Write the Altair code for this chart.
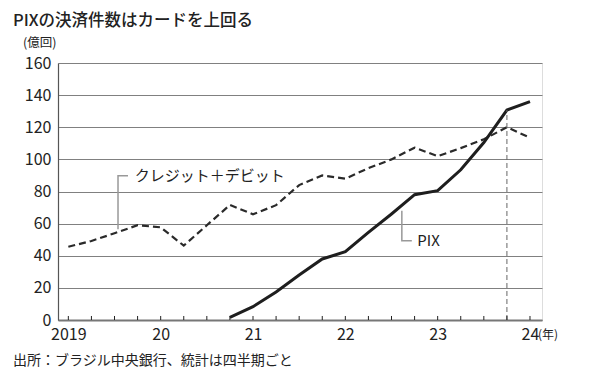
import altair as alt
import pandas as pd

# quarterly data, 2019 Q1 .. 2024 Q1
quarters = [2019 + i * 0.25 for i in range(21)]
card = [45.6, 49.2, 54.0, 59.0, 57.7, 46.3, 59.0, 71.6, 65.8, 71.5, 84.0, 90.0,
        88.0, 94.5, 100.0, 107.3, 102.0, 107.0, 112.5, 120.0, 113.5]
pix_q = [2020.75 + i * 0.25 for i in range(14)]
pix = [1.7, 8.3, 17.5, 28.0, 38.0, 42.5, 54.5, 66.0, 78.0, 80.5, 93.5, 110.5, 130.7, 136.0]

year_ticks = [2019, 2020, 2021, 2022, 2023, 2024]
y_ticks = [0, 20, 40, 60, 80, 100, 120, 140, 160]

# annotation leader lines (data coordinates)
card_leader_x = [2019.538, 2019.538, 2019.646]
card_leader_y = [56.5, 89.8, 89.8]
pix_leader_x = [2022.612, 2022.612, 2022.72]
pix_leader_y = [68.0, 49.4, 49.4]
ref_x = 2023.75
ref_top = 130.7

W, H = 484, 257
FONT = "Noto Sans CJK JP"

df_card = pd.DataFrame({"q": quarters, "v": card})
df_pix = pd.DataFrame({"q": pix_q, "v": pix})

xscale = alt.Scale(domain=[2018.888, 2024.13], nice=False, zero=False)
yscale = alt.Scale(domain=[0, 160], nice=False)

x_axis = alt.Axis(values=year_ticks, ticks=False, grid=False, title=None,
                  labelExpr="datum.value == 2019 ? '2019' : '' + (datum.value - 2000)",
                  labelFont=FONT, labelFontSize=16, labelColor="#222", labelPadding=6,
                  domainColor="#777", domainWidth=2, labelFlush=False, labelOverlap=False)
y_axis = alt.Axis(values=y_ticks, ticks=False, grid=True, gridColor="#808080", gridWidth=1,
                  title=None, labelFont=FONT, labelFontSize=16, labelColor="#222",
                  labelPadding=7, domainColor="#555", domainWidth=1.2,
                  labelOverlap=False, labelFlush=False)


def X(field):
    return alt.X(field, scale=xscale, axis=x_axis)


def Y(field):
    return alt.Y(field, scale=yscale, axis=y_axis)


card_line = alt.Chart(df_card).mark_line(
    color="#2a2a2a", strokeWidth=2.2, strokeDash=[7, 4]
).encode(x=X("q:Q"), y=Y("v:Q"))

pix_line = alt.Chart(df_pix).mark_line(
    color="#1e1e1e", strokeWidth=3
).encode(x=X("q:Q"), y=Y("v:Q"))

# quarter tick marks pointing up from the baseline
df_ticks = pd.DataFrame({"q": quarters, "y0": [0] * len(quarters), "y1": [2.5] * len(quarters)})
ticks = alt.Chart(df_ticks).mark_rule(color="#222", strokeWidth=1).encode(
    x=X("q:Q"), y=Y("y0:Q"), y2="y1:Q"
)

df_ref = pd.DataFrame({"q": [ref_x], "y0": [0], "y1": [ref_top]})
ref = alt.Chart(df_ref).mark_rule(color="#666", strokeWidth=1, strokeDash=[5, 3]).encode(
    x=X("q:Q"), y=Y("y0:Q"), y2="y1:Q"
)

df_cl = pd.DataFrame({"q": card_leader_x, "v": card_leader_y, "o": [0, 1, 2]})
card_leader = alt.Chart(df_cl).mark_line(color="#999", strokeWidth=1.5).encode(
    x=X("q:Q"), y=Y("v:Q"), order="o:Q"
)
df_pl = pd.DataFrame({"q": pix_leader_x, "v": pix_leader_y, "o": [0, 1, 2]})
pix_leader = alt.Chart(df_pl).mark_line(color="#999", strokeWidth=1.5).encode(
    x=X("q:Q"), y=Y("v:Q"), order="o:Q"
)

df_lab = pd.DataFrame({
    "q": [2019.72, 2022.78],
    "v": [89.8, 49.4],
    "t": ["クレジット＋デビット", "PIX"],
})
labels = alt.Chart(df_lab).mark_text(
    align="left", baseline="middle", font=FONT, fontSize=15, color="#222"
).encode(x=X("q:Q"), y=Y("v:Q"), text="t:N")

df_nen = pd.DataFrame({"q": [2024], "v": [0], "t": ["(年)"]})
nen = alt.Chart(df_nen).mark_text(
    align="left", baseline="alphabetic", font=FONT, fontSize=12, color="#222", dx=8, dy=19
).encode(x=X("q:Q"), y=Y("v:Q"), text="t:N")

title = alt.Chart(pd.DataFrame({"t": ["PIXの決済件数はカードを上回る"]})).mark_text(
    align="left", baseline="alphabetic", font=FONT, fontSize=16.5, fontWeight=500, color="#222"
).encode(x=alt.value(-45), y=alt.value(-37), text="t:N")

unit = alt.Chart(pd.DataFrame({"t": ["(億回)"]})).mark_text(
    align="left", baseline="alphabetic", font=FONT, fontSize=12.5, color="#222"
).encode(x=alt.value(-35), y=alt.value(-16), text="t:N")

source = alt.Chart(pd.DataFrame({"t": ["出所：ブラジル中央銀行、統計は四半期ごと"]})).mark_text(
    align="left", baseline="alphabetic", font=FONT, fontSize=14, color="#222"
).encode(x=alt.value(-45), y=alt.value(H + 45), text="t:N")

chart = alt.layer(
    card_line, pix_line, card_leader, pix_leader, ref, ticks, labels, nen, title, unit, source
).properties(
    width=W, height=H,
    autosize=alt.AutoSizeParams(type="none"),
    padding={"left": 50, "top": 55, "right": 43, "bottom": 48},
).configure_view(stroke=None).configure(background="white")

chart.save("out.html", embed_options={"renderer": "svg", "actions": False})
